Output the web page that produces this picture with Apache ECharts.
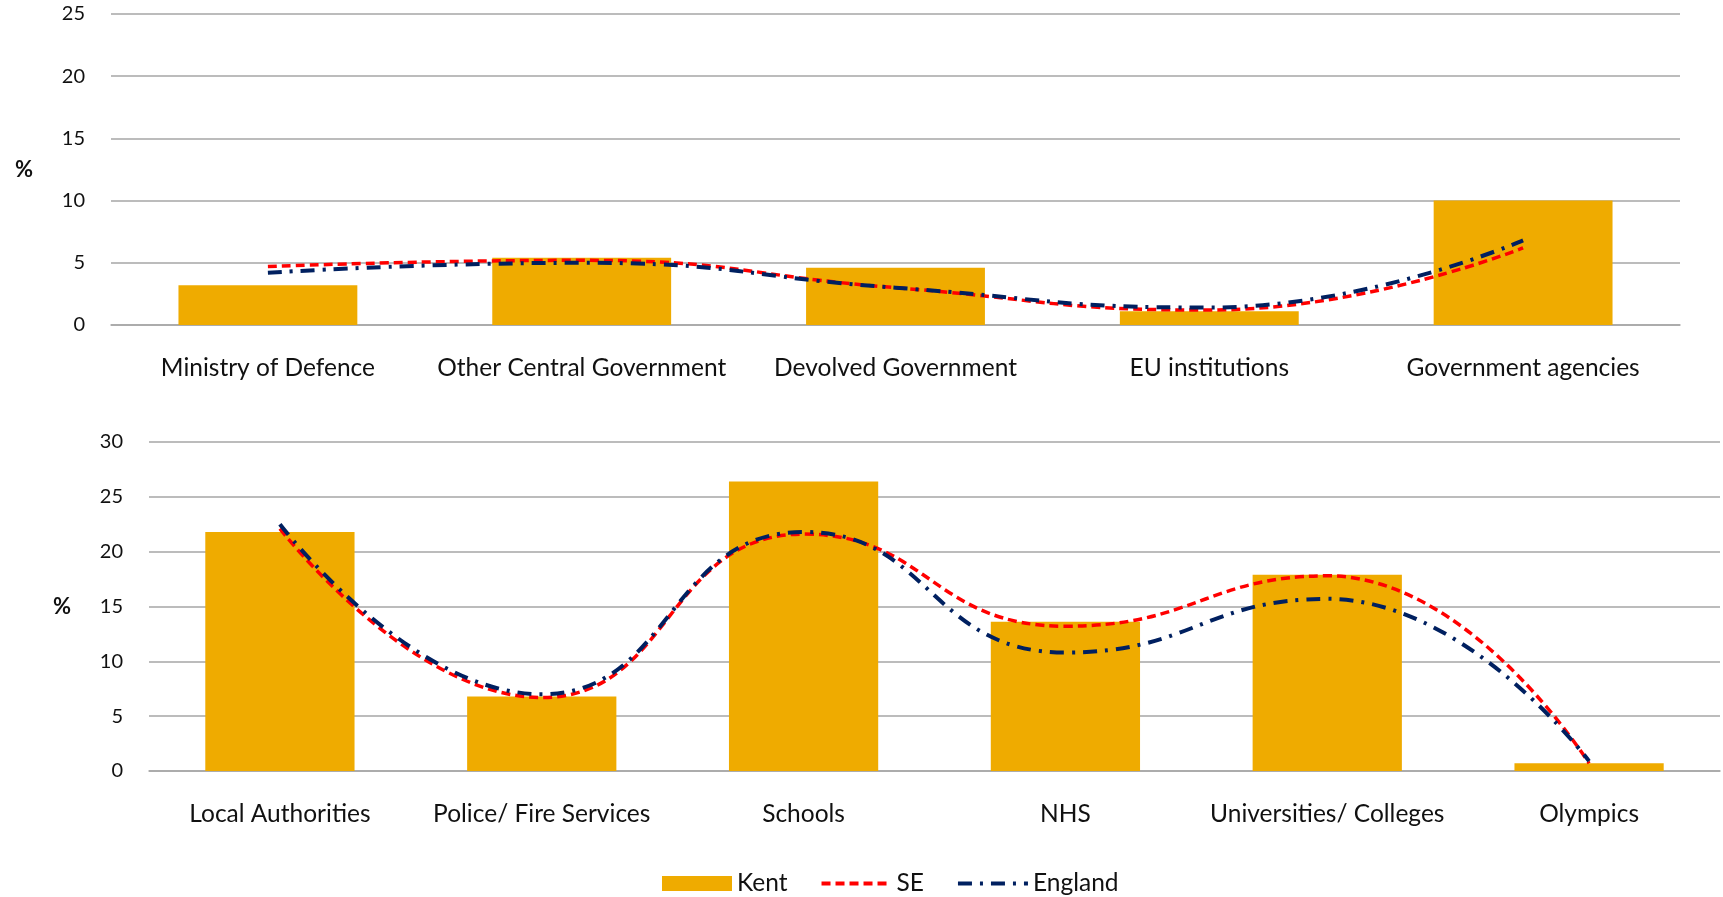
<!DOCTYPE html>
<html>
<head>
<meta charset="utf-8">
<script src="https://cdn.jsdelivr.net/npm/echarts@6/dist/echarts.min.js"></script>
<style>
  html, body { margin: 0; padding: 0; background: #fff; }
  #chart { width: 1723px; height: 897px; }
</style>
</head>
<body>
<div id="chart"></div>
<script>
// top panel: central government etc
const topCats = ['Ministry of Defence', 'Other Central Government', 'Devolved Government', 'EU institutions', 'Government agencies'];
const topKent = [3.2, 5.4, 4.6, 1.1, 10.0];
const topSE = [4.7, 5.2, 3.0, 1.2, 6.2];
const topEngland = [4.2, 5.0, 3.0, 1.4, 6.8];

// bottom panel: local public sector
const botCats = ['Local Authorities', 'Police/ Fire Services', 'Schools', 'NHS', 'Universities/ Colleges', 'Olympics'];
const botKent = [21.8, 6.8, 26.4, 13.6, 17.9, 0.7];
const botSE = [22.1, 6.7, 21.6, 13.2, 17.8, 0.7];
const botEngland = [22.5, 7.0, 21.8, 10.8, 15.7, 0.9];

const FONT = 'Lato';
const kentColor = '#EFAB00';
const seColor = '#FF0000';
const engColor = '#002060';
const gridColor = '#A6A6A6';

function xAxis(idx, cats) {
  return {
    type: 'category', gridIndex: idx, data: cats,
    axisTick: { show: false },
    axisLine: { lineStyle: { color: gridColor, width: 1.5 } },
    axisLabel: { color: '#111', fontFamily: FONT, fontSize: 24.5, margin: 31, interval: 0 }
  };
}
function yAxis(idx, max) {
  return {
    type: 'value', gridIndex: idx, min: 0, max: max, interval: 5,
    name: '%', nameLocation: 'middle', nameRotate: 0, nameGap: 78,
    nameTextStyle: { color: '#111', fontFamily: FONT, fontSize: 22, fontWeight: 'bold' },
    axisLine: { show: false }, axisTick: { show: false },
    axisLabel: { color: '#111', fontFamily: FONT, fontSize: 20, margin: 26 },
    splitLine: { lineStyle: { color: gridColor, width: 1.5 } }
  };
}
function bars(idx, data) {
  return { name: 'Kent', type: 'bar', xAxisIndex: idx, yAxisIndex: idx, data: data,
    barWidth: '57%', itemStyle: { color: kentColor } };
}
function seLine(idx, data) {
  return { name: 'SE', type: 'line', xAxisIndex: idx, yAxisIndex: idx, data: data,
    smooth: true, symbol: 'none',
    lineStyle: { color: seColor, width: 3.5, type: [9, 5] }, itemStyle: { color: seColor } };
}
function engLine(idx, data) {
  return { name: 'England', type: 'line', xAxisIndex: idx, yAxisIndex: idx, data: data,
    smooth: true, symbol: 'none',
    lineStyle: { color: engColor, width: 4, type: [14, 8, 3, 8] }, itemStyle: { color: engColor } };
}

const chart = echarts.init(document.getElementById('chart'));
chart.setOption({
  animation: false,
  backgroundColor: '#fff',
  grid: [
    { left: 111, right: 43, top: 14, height: 311 },
    { left: 149, right: 3, top: 442, height: 329 }
  ],
  legend: {
    data: [
      { name: 'Kent', icon: 'rect' },
      { name: 'SE', itemStyle: { opacity: 0 } },
      { name: 'England', itemStyle: { opacity: 0 } }
    ],
    top: 866, left: 657,
    itemWidth: 70, itemHeight: 15, itemGap: 32,
    lineStyle: { width: 4 },
    textStyle: { color: '#111', fontFamily: FONT, fontSize: 24.5 }
  },
  xAxis: [xAxis(0, topCats), xAxis(1, botCats)],
  yAxis: [yAxis(0, 25), yAxis(1, 30)],
  series: [
    bars(0, topKent), seLine(0, topSE), engLine(0, topEngland),
    bars(1, botKent), seLine(1, botSE), engLine(1, botEngland)
  ]
});
</script>
</body>
</html>
